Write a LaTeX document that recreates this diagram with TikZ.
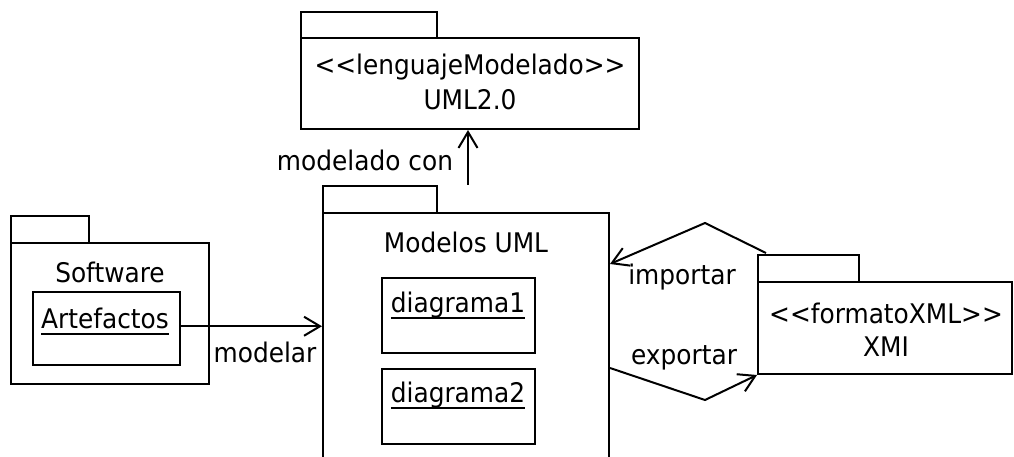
\documentclass[tikz,border=0pt]{standalone}
\usepackage{fontspec}
\setmainfont{DejaVu Sans}[FakeStretch=0.92,Ligatures=NoCommon]
\usetikzlibrary{arrows.meta,calc}
\newcommand{\lt}{\mbox{<}}
\newcommand{\gt}{\mbox{>}}
\newsavebox{\ulbox}
\newcommand{\ulx}[1]{\sbox{\ulbox}{#1}\rlap{\usebox{\ulbox}}\raisebox{-6.5pt}{\rule{\wd\ulbox}{1.8pt}}}
\begin{document}
\begin{tikzpicture}[x=1pt,y=-1pt,
  ln/.style={line width=2pt},
  box/.style={draw,ln,inner sep=0pt,anchor=north west},
  txt/.style={font=\fontsize{27}{30}\selectfont,inner sep=0pt},
  dep/.style={ln,-{Straight Barb[length=16pt,width=19pt,line width=2pt]}}
]
\useasboundingbox (0,0) rectangle (1014,457);
% UML2.0 package
\node[box,minimum width=136pt,minimum height=26pt] (umltab) at (300,11) {};
\node[box,minimum width=338pt,minimum height=91pt] (uml) at (300,37) {};
\node[txt] (umlst) at (470,67) {\lt{}\lt{}lenguajeModelado\gt{}\gt{}};
\node[txt] (umlname) at (470,100) {UML2.0};
% Modelos UML package
\node[box,minimum width=114pt,minimum height=27pt] (modtab) at (322,185) {};
\node[box,minimum width=286pt,minimum height=270pt] (mod) at (322,212) {};
\node[txt] (modname) at (466,242) {Modelos UML};
\node[box,minimum width=153pt,minimum height=75pt] (d1) at (381,277) {};
\node[txt,anchor=base] (d1t) at (458,312) {\ulx{diagrama1}};
\node[box,minimum width=153pt,minimum height=75pt] (d2) at (381,368) {};
\node[txt,anchor=base] (d2t) at (458,402) {\ulx{diagrama2}};
% Software package
\node[box,minimum width=78pt,minimum height=27pt] (swtab) at (10,215) {};
\node[box,minimum width=198pt,minimum height=141pt] (sw) at (10,242) {};
\node[txt] (swname) at (110,272) {Software};
\node[box,minimum width=147pt,minimum height=73pt] (art) at (32,291) {};
\node[txt,anchor=base] (artt) at (105,328) {\ulx{Artefactos}};
% XMI package
\node[box,minimum width=101pt,minimum height=27pt] (xtab) at (757,254) {};
\node[box,minimum width=254pt,minimum height=92pt] (xmi) at (757,281) {};
\node[txt] (xst) at (886,313) {\lt{}\lt{}formatoXML\gt{}\gt{}};
\node[txt] (xname) at (886,347) {XMI};
% connectors
\draw[dep] ($(art.north east)!0.47!(art.south east)$) coordinate (a0) -- (a0 -| mod.west);
\node[txt] (modelar) at (265,352) {modelar};
\coordinate (c0) at (468,185);
\draw[dep] (c0) -- (c0 |- uml.south);
\node[txt] (modcon) at (365,160) {modelado con};
\coordinate (i0) at (766,253);
\coordinate (i1) at (705,223);
\draw[dep] (i0) -- (i1) -- (mod.east |- 0,264);
\node[txt] (imp) at (682,277) {importar};
\coordinate (e1) at (705,400);
\draw[dep] (mod.east |- 0,368) -- (e1) -- (xmi.south west);
\node[txt] (exp) at (684,358) {exportar};
\end{tikzpicture}
\end{document}
